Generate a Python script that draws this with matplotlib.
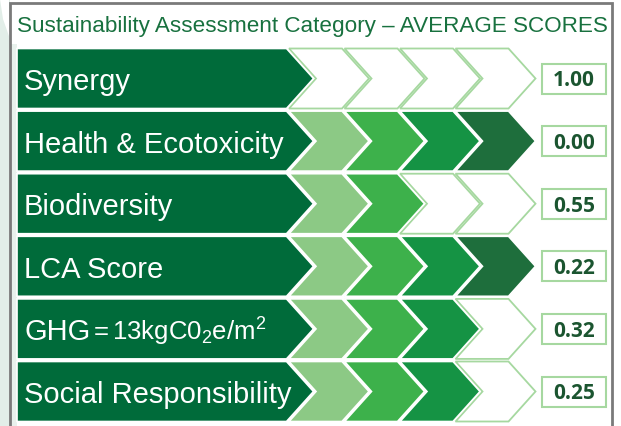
import matplotlib.pyplot as plt
from matplotlib.patches import Polygon, Rectangle

plt.rcParams['font.family'] = ['Liberation Sans', 'DejaVu Sans']
plt.rcParams['mathtext.fontset'] = 'custom'
plt.rcParams['mathtext.rm'] = 'Liberation Sans'
plt.rcParams['mathtext.it'] = 'Liberation Sans:italic'

# data
title = "Sustainability Assessment Category \u2013 AVERAGE SCORES"
categories = ["Synergy", "Health & Ecotoxicity", "Biodiversity", "LCA Score",
              "GHG", "Social Responsibility"]
ghg_rest = r"$\,$=$\,$13kgC0$_\mathrm{2}$e/m$^\mathrm{2}$"
scores = [1.00, 0.00, 0.55, 0.22, 0.32, 0.25]
filled = [0, 4, 2, 4, 3, 3]

# colours
dark = '#006b3a'
step_cols = ['#8cc985', '#3db14b', '#159344', '#1e6e3c']
empty_edge = '#a6d8a0'
text_green = '#18713f'
score_col = '#1b5530'

fig = plt.figure(figsize=(6.21, 4.27), dpi=100)
ax = fig.add_axes([0, 0, 1, 1])
ax.set_xlim(0, 621)
ax.set_ylim(427, 0)
ax.axis('off')

# background outside / behind the frame
ax.add_patch(Rectangle((0, 0), 10, 427, facecolor='#e2eee8', edgecolor='none'))
ax.add_patch(Polygon([(0, 0), (9, 0), (10, 40), (3, 20)], closed=True,
                     facecolor='white', edgecolor='none'))
ax.add_patch(Rectangle((10, 45), 7, 382, facecolor='#e8f1ec', edgecolor='none'))
ax.plot([10, 10, 612, 612], [430, 4, 4, 430], color='#7a7a7a', lw=2,
        solid_joinstyle='miter')

ax.text(17, 32, title, fontsize=16.2, color=text_green, va='baseline', ha='left')

top0, pitch, h = 49.5, 62.6, 60
bar_x0, bar_x1 = 17, 286.5
depth = 27
cx0, cpitch, cw = 289, 55.5, 53

for i, (cat, sc, nf) in enumerate(zip(categories, scores, filled)):
    top = top0 + i * pitch
    bot = top + h
    mid = top + h / 2
    # chevrons: empty first, filled afterwards
    for k in range(3, -1, -1):
        xl = cx0 + k * cpitch
        pts = [(xl, top), (xl + cw, top), (xl + cw + depth, mid),
               (xl + cw, bot), (xl, bot), (xl + depth, mid)]
        if k < nf:
            ax.add_patch(Polygon(pts, closed=True, facecolor=step_cols[k],
                                 edgecolor='white', lw=1.2, zorder=3))
        else:
            ax.add_patch(Polygon(pts, closed=True, facecolor='white',
                                 edgecolor=empty_edge, lw=1.3, zorder=2))
    # dark label arrow
    pts = [(bar_x0, top), (bar_x1, top), (bar_x1 + depth, mid),
           (bar_x1, bot), (bar_x0, bot)]
    ax.add_patch(Polygon(pts, closed=True, facecolor=dark, edgecolor='white',
                         lw=1.2, zorder=4))
    t = ax.text(24, mid + 10.5, cat, fontsize=21, color='white', va='baseline',
                ha='left', zorder=5)
    if cat == "GHG":
        # rest of the GHG label, a bit narrower
        ax.annotate(ghg_rest, xy=(1, mid + 10.5), xycoords=(t, 'data'),
                    fontsize=18.5, color='white', va='baseline', ha='left',
                    zorder=5)
    # score box
    ax.add_patch(Rectangle((542, mid - 15), 64, 30, facecolor='white',
                           edgecolor=empty_edge, lw=1.5, zorder=3))
    ax.text(574, mid + 7, f"{sc:.2f}", fontsize=15, fontweight='bold',
            family='Open Sans', color=score_col, ha='center', va='baseline',
            zorder=5)

fig.savefig('out.png', dpi=100)
